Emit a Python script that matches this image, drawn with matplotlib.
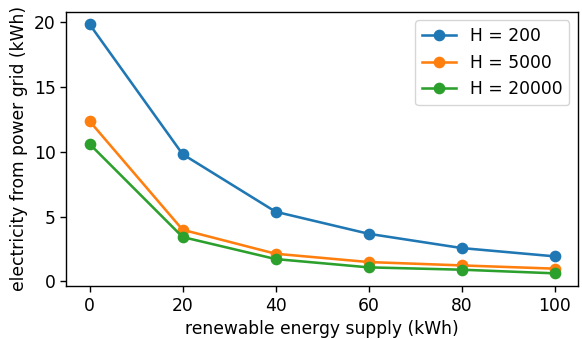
import numpy as np
import matplotlib
matplotlib.use("Agg")
import matplotlib.pyplot as plt

# renewable energy supply (kWh)
supply = [0, 20, 40, 60, 80, 100]

# electricity drawn from the grid for each H
grid_h200 = [19.83, 9.81, 5.37, 3.67, 2.57, 1.93]
grid_h5000 = [12.36, 3.98, 2.13, 1.49, 1.23, 0.98]
grid_h20000 = [10.6, 3.42, 1.72, 1.08, 0.9, 0.62]

labels = ["H = 200", "H = 5000", "H = 20000"]

plt.rcParams['font.size'] = 12.3

fig, ax = plt.subplots(figsize=(5.82, 3.39), dpi=100)
for vals, lab in zip([grid_h200, grid_h5000, grid_h20000], labels):
    ax.plot(supply, vals, marker='o', markersize=7.4, linewidth=1.85, label=lab)

ax.set_xlabel("renewable energy supply (kWh)")
ax.set_ylabel("electricity from power grid (kWh)")
ax.set_xticks([0, 20, 40, 60, 80, 100])
ax.set_yticks([0, 5, 10, 15, 20])
ax.tick_params(width=1.0, length=4.3)
for s in ax.spines.values():
    s.set_linewidth(1.0)
ax.legend(loc='upper right')

fig.subplots_adjust(left=0.114, right=0.993, top=0.965, bottom=0.157)
fig.savefig("out.png", dpi=100)
